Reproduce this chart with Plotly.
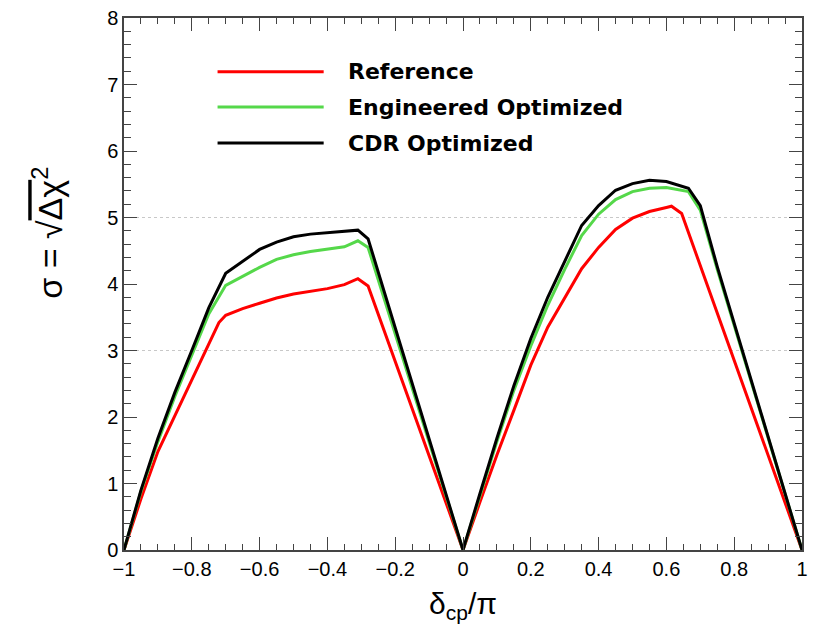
import plotly.graph_objects as go

# Sensitivity sigma = sqrt(delta chi^2) versus delta_cp / pi
ref_x = [-1.0, -0.95, -0.9, -0.85, -0.8, -0.75, -0.72, -0.7, -0.65, -0.6, -0.55, -0.5,
         -0.45, -0.4, -0.35, -0.31, -0.28, 0.0,
         0.05, 0.1, 0.15, 0.2, 0.25, 0.3, 0.35, 0.4, 0.45, 0.5, 0.55, 0.6, 0.615, 0.645, 1.0]
ref_y = [0.0, 0.77, 1.48, 2.02, 2.56, 3.12, 3.42, 3.53, 3.63, 3.71, 3.79, 3.85,
         3.89, 3.93, 3.99, 4.08, 3.97, 0.0,
         0.72, 1.43, 2.1, 2.78, 3.35, 3.8, 4.23, 4.55, 4.82, 4.99, 5.09, 5.15, 5.17, 5.06, 0.0]

eng_x = [-1.0, -0.95, -0.9, -0.85, -0.8, -0.75, -0.7, -0.65, -0.6, -0.55, -0.5,
         -0.45, -0.4, -0.35, -0.31, -0.28, 0.0,
         0.05, 0.1, 0.15, 0.2, 0.25, 0.3, 0.35, 0.4, 0.45, 0.5, 0.55, 0.6, 0.665, 0.7, 0.75, 1.0]
eng_y = [0.0, 0.88, 1.63, 2.31, 2.93, 3.55, 3.98, 4.12, 4.25, 4.37, 4.44,
         4.49, 4.52, 4.56, 4.65, 4.55, 0.0,
         0.83, 1.63, 2.4, 3.07, 3.68, 4.22, 4.73, 5.05, 5.27, 5.39, 5.44, 5.45, 5.39, 5.11, 4.22, 0.0]

cdr_x = [-1.0, -0.95, -0.9, -0.85, -0.8, -0.75, -0.7, -0.65, -0.6, -0.55, -0.5,
         -0.45, -0.4, -0.35, -0.31, -0.28, 0.0,
         0.05, 0.1, 0.15, 0.2, 0.25, 0.3, 0.35, 0.4, 0.45, 0.5, 0.55, 0.6, 0.665, 0.7, 0.75, 1.0]
cdr_y = [0.0, 0.9, 1.68, 2.37, 3.0, 3.64, 4.16, 4.34, 4.52, 4.63, 4.71,
         4.75, 4.77, 4.79, 4.81, 4.68, 0.0,
         0.85, 1.68, 2.47, 3.18, 3.8, 4.35, 4.88, 5.18, 5.41, 5.51, 5.56, 5.54, 5.44, 5.18, 4.26, 0.0]

series_names = ["Reference", "Engineered Optimized", "CDR Optimized"]
series_colors = ["#ff0000", "#55d84a", "#000000"]

x_ticks = [-1, -0.8, -0.6, -0.4, -0.2, 0, 0.2, 0.4, 0.6, 0.8, 1]
x_tick_text = ["\u22121", "\u22120.8", "\u22120.6", "\u22120.4", "\u22120.2", "0",
               "0.2", "0.4", "0.6", "0.8", "1"]
y_ticks = [0, 1, 2, 3, 4, 5, 6, 7, 8]
grid_levels = [3, 5]

fig = go.Figure()
for xs, ys, name, col in zip([ref_x, eng_x, cdr_x], [ref_y, eng_y, cdr_y],
                             series_names, series_colors):
    fig.add_trace(go.Scatter(x=xs, y=ys, mode="lines", name=name,
                             line=dict(color=col, width=3), showlegend=False))

axis_font = dict(family="Liberation Sans, Arial, sans-serif", size=20, color="#000")
frame_col = "#444"

fig.update_xaxes(range=[-1, 1], tickvals=x_ticks, ticktext=x_tick_text,
                 ticks="inside", ticklen=13, tickwidth=1, tickcolor=frame_col,
                 showline=True, linecolor=frame_col, linewidth=1.5, mirror="allticks",
                 showgrid=False, zeroline=False, tickfont=axis_font,
                 minor=dict(ticks="inside", ticklen=6, dtick=0.05, tickcolor=frame_col,
                            showgrid=False))
fig.update_yaxes(range=[0, 8], tickvals=y_ticks,
                 ticks="inside", ticklen=13, tickwidth=1, tickcolor=frame_col,
                 showline=True, linecolor=frame_col, linewidth=1.5, mirror="allticks",
                 showgrid=False, zeroline=False, tickfont=axis_font,
                 minor=dict(ticks="inside", ticklen=7, dtick=0.2, tickcolor=frame_col,
                            showgrid=False))

shapes = []
for g in grid_levels:
    shapes.append(dict(type="line", xref="x", yref="y", x0=-1, x1=1, y0=g, y1=g,
                       line=dict(color="#c8c8c8", width=1, dash="dot"), layer="below"))

# legend drawn by hand: line samples and bold labels
leg_y = [7.19, 6.66, 6.12]
annotations = []
for name, col, ly in zip(series_names, series_colors, leg_y):
    shapes.append(dict(type="line", xref="x", yref="y", x0=-0.724, x1=-0.411, y0=ly, y1=ly,
                       line=dict(color=col, width=3)))
    annotations.append(dict(x=-0.346, y=ly, xref="x", yref="y", text="<b>%s</b>" % name,
                            showarrow=False, xanchor="left", yanchor="middle",
                            font=dict(family="DejaVu Sans, sans-serif",
                                      size=22, color="#000")))

title_font = dict(family="Liberation Sans, Arial, sans-serif", size=30, color="#000")
annotations.append(dict(x=0, y=-0.105, xref="x", yref="paper",
                        text="\u03b4<sub>cp</sub>/\u03c0", showarrow=False,
                        xanchor="center", yanchor="middle", font=title_font))
annotations.append(dict(x=-0.113, y=0.597, xref="paper", yref="paper",
                        text="\u03c3 = \u221a<span style='text-decoration:overline'>\u0394\u03c7</span><sup>2</sup>",
                        showarrow=False, textangle=-90,
                        xanchor="center", yanchor="middle",
                        font=dict(family="Liberation Sans, Arial, sans-serif", size=34,
                                  color="#000")))

fig.update_layout(width=815, height=630,
                  margin=dict(l=124, r=7, t=18, b=80),
                  paper_bgcolor="white", plot_bgcolor="white",
                  shapes=shapes, annotations=annotations, showlegend=False)

fig.write_html("out.html")
